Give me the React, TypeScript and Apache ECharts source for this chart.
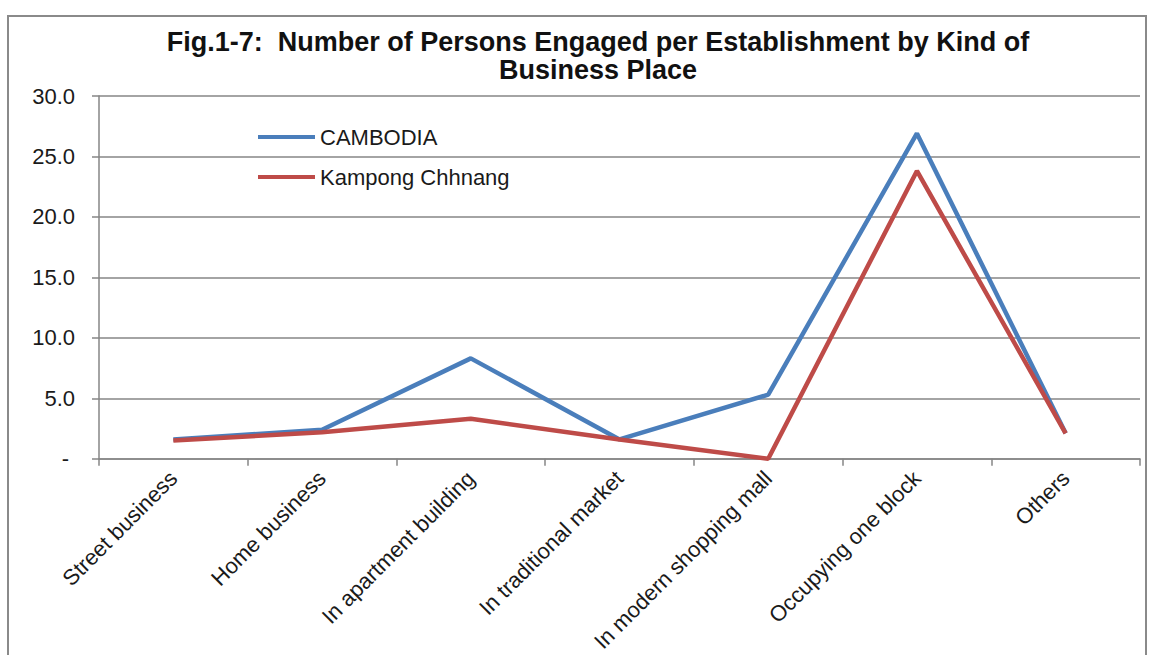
import React, { useEffect, useRef } from "react";
import * as echarts from "echarts";

const categories = [
  "Street business",
  "Home business",
  "In apartment building",
  "In traditional market",
  "In modern shopping mall",
  "Occupying one block",
  "Others",
];
const cambodia = [1.6, 2.4, 8.3, 1.6, 5.3, 26.9, 2.1];
const kampongChhnang = [1.5, 2.2, 3.3, 1.6, 0.0, 23.8, 2.1];
const seriesNames = ["CAMBODIA", "Kampong Chhnang"];
const yTicks = { min: 0, max: 30, interval: 5 };
const titleText =
  "Fig.1-7:  Number of Persons Engaged per Establishment by Kind of\nBusiness Place";

const FONT = "'Liberation Sans', Arial, sans-serif";

export default function App() {
  const ref = useRef<HTMLDivElement>(null);
  useEffect(() => {
    if (!ref.current) return;
    const chart = echarts.init(ref.current, undefined, { renderer: "svg" });
    chart.setOption({
      animation: false,
      backgroundColor: "#ffffff",
      title: {
        text: titleText,
        left: 598,
        top: 28,
        padding: 0,
        textAlign: "center",
        textStyle: {
          fontFamily: FONT,
          fontWeight: "bold",
          fontSize: 27,
          lineHeight: 28,
          color: "#111111",
        },
      },
      graphic: [
        {
          type: "rect",
          shape: { x: 8, y: 16, width: 1138, height: 700 },
          style: { fill: "none", stroke: "#8a8a8a", lineWidth: 2 },
          silent: true,
          z: -1,
        },
      ],
      legend: {
        orient: "vertical",
        left: 258,
        top: 126,
        padding: 0,
        icon: "rect",
        itemWidth: 57,
        itemHeight: 4,
        itemGap: 18,
        data: seriesNames,
        textStyle: { fontFamily: FONT, fontSize: 22, lineHeight: 22, color: "#1a1a1a" },
      },
      grid: { left: 99, right: 9, top: 96, bottom: 194, containLabel: false },
      xAxis: {
        type: "category",
        data: categories,
        boundaryGap: true,
        axisLine: { lineStyle: { color: "#868686", width: 1.5 } },
        axisTick: { show: true, length: 7, lineStyle: { color: "#868686", width: 1.5 } },
        axisLabel: {
          rotate: 45,
          interval: 0,
          margin: 16,
          fontFamily: FONT,
          fontSize: 22,
          color: "#1a1a1a",
        },
        splitLine: { show: false },
      },
      yAxis: {
        type: "value",
        min: yTicks.min,
        max: yTicks.max,
        interval: yTicks.interval,
        axisLine: { show: true, lineStyle: { color: "#868686", width: 1.5 } },
        axisTick: { show: true, length: 7, lineStyle: { color: "#868686", width: 1.5 } },
        splitLine: { lineStyle: { color: "#868686", width: 1.5 } },
        axisLabel: {
          margin: 24,
          fontFamily: FONT,
          fontSize: 22,
          color: "#1a1a1a",
          formatter: (v: number) => (v === 0 ? "{d|-}" : v.toFixed(1)),
          rich: {
            d: { fontFamily: FONT, fontSize: 22, color: "#1a1a1a", padding: [0, 6, 0, 0] },
          },
        },
      },
      series: [
        {
          name: seriesNames[0],
          type: "line",
          data: cambodia,
          symbol: "none",
          lineStyle: { color: "#4a7ebb", width: 4.5 },
          itemStyle: { color: "#4a7ebb" },
          z: 2,
        },
        {
          name: seriesNames[1],
          type: "line",
          data: kampongChhnang,
          symbol: "none",
          lineStyle: { color: "#be4b48", width: 4.5 },
          itemStyle: { color: "#be4b48" },
          z: 3,
        },
      ],
    });
    return () => chart.dispose();
  }, []);
  return (
    <div
      ref={ref}
      style={{ position: "fixed", left: 0, top: 0, width: 1149, height: 655 }}
    />
  );
}
